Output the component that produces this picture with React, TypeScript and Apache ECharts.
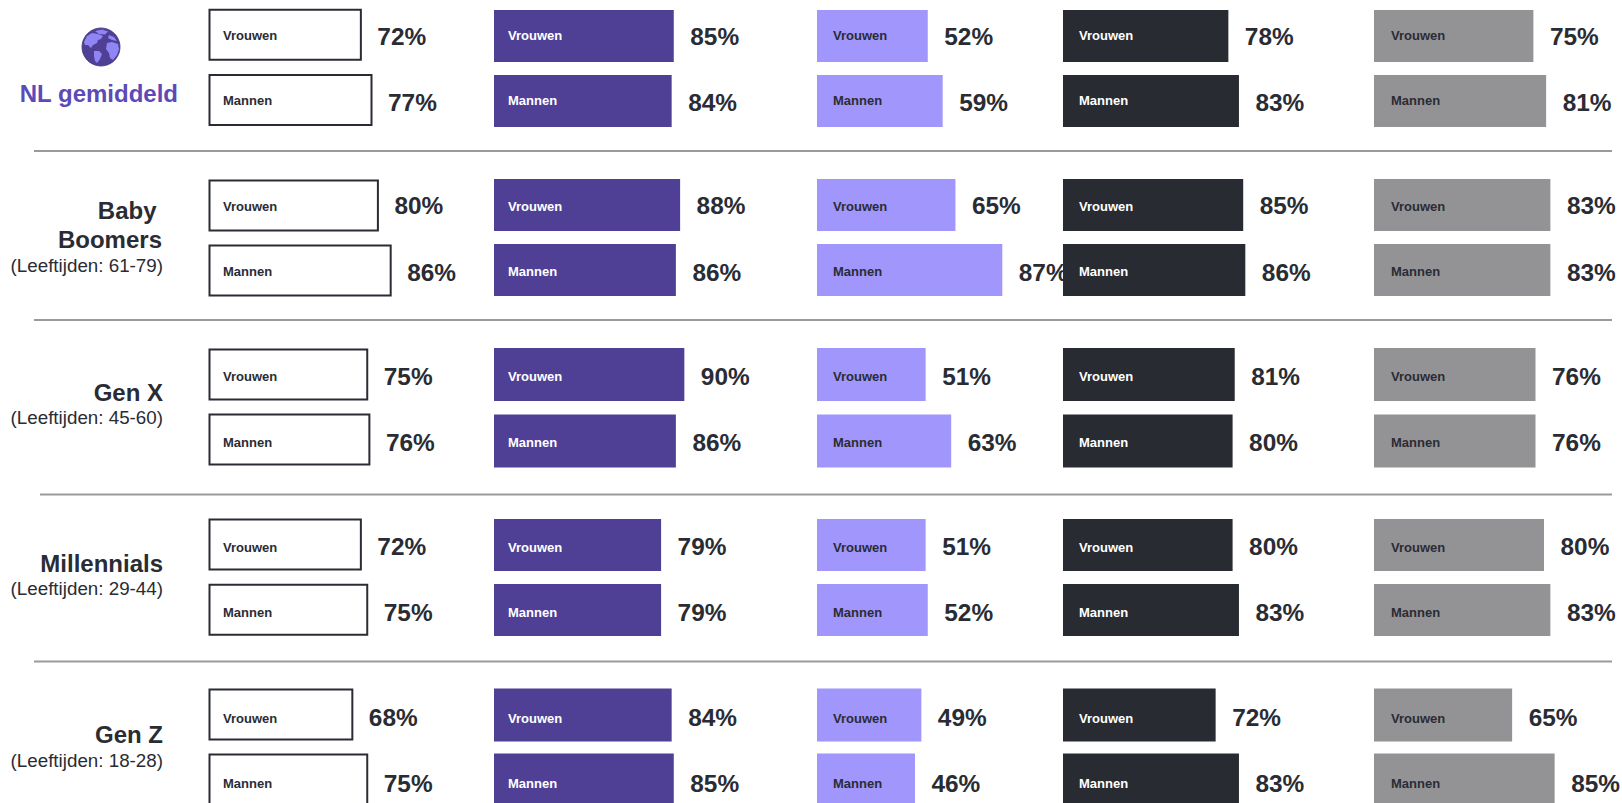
import React, { useEffect, useRef } from "react";
import * as echarts from "echarts";

const categories = ["Vrouwen", "Mannen"];
const groupNames = ["NL gemiddeld", "Baby Boomers", "Gen X", "Millennials", "Gen Z"];
const ageLabels = ["", "(Leeftijden: 61-79)", "(Leeftijden: 45-60)", "(Leeftijden: 29-44)", "(Leeftijden: 18-28)"];

// Values per column, per group: [Vrouwen, Mannen]
const columnOne = [[72, 77], [80, 86], [75, 76], [72, 75], [68, 75]];
const columnTwo = [[85, 84], [88, 86], [90, 86], [79, 79], [84, 85]];
const columnThree = [[52, 59], [65, 87], [51, 63], [51, 52], [49, 46]];
const columnFour = [[78, 83], [85, 86], [81, 80], [80, 83], [72, 83]];
const columnFive = [[75, 81], [83, 83], [76, 76], [80, 83], [65, 85]];
const columns = [columnOne, columnTwo, columnThree, columnFour, columnFive];

// Layout
const INK = "#2a2c34";
const FONT = "'Liberation Sans', Arial, sans-serif";
const columnLeft = [208.5, 494, 817, 1063, 1374];
const columnScale = [2.13, 2.115, 2.13, 2.12, 2.125];
const columnFill = ["#ffffff", "#4f4096", "#a096fb", "#292b33", "#939396"];
const innerInk = [INK, "#ffffff", INK, "#ffffff", INK];
const innerDistance = [14.5, 14, 16, 16, 17];
const percentDistance = [15.5, 16.5, 16.5, 16.5, 16.5];
const rowCenters = [[36, 101], [205, 270], [374.5, 441], [545, 610], [715, 780]];
const boxRowCenters = [[34.8, 100], [205.5, 270.6], [374.5, 439.6], [544.6, 609.8], [714.5, 779.5]];
const barHeights = [52, 52, 53, 52, 53];
const boxHeight = 52;
const innerDy = [[-1, -1], [1, 1], [2, 1], [2, 2], [3, 3]];
const percentDy = [[0, 1], [0, 2], [2, 1], [1, 2], [2, 3]];
const boxLabelDy = [[2, 1], [0, 0], [0, 2], [1, 1], [1, 1]];

const GLOBE_LIGHT =
  "M2 14 L5 8 L10 5 L16 6 L21 8 L19 11 L16 12 L15 15 L11 17 L9 20 L6 17 L3 17 Z " +
  "M12 23 L17 23 L20 26 L18 31 L15 35 L13 33 L12 28 Z " +
  "M13 3 L20 1.5 L26 3.5 L23 6.5 L17 6 Z " +
  "M25 15 L30 14 L36 16 L37 21 L35 27 L31 32 L28 30 L27 25 L24 21 Z " +
  "M27 7 L32 9 L35 13 L30 12 L26 10 Z";
(echarts.graphic as any).registerShape("globeLight", (echarts.graphic as any).extendPath(GLOBE_LIGHT, {}));

function buildOption() {
  const grid: any[] = [];
  const xAxis: any[] = [];
  const yAxis: any[] = [];
  const series: any[] = [];

  columns.forEach((column, c) => {
    column.forEach((values, g) => {
      const [a, b] = c === 0 ? boxRowCenters[g] : rowCenters[g];
      const band = b - a;
      const index = grid.length;
      const extraDy = (i: number) => (c === 0 ? boxLabelDy[g][i] : 0);
      grid.push({ left: columnLeft[c], top: a - band / 2, width: columnScale[c] * 100, height: band * 2 });
      xAxis.push({ gridIndex: index, type: "value", min: 0, max: 100, show: false });
      yAxis.push({ gridIndex: index, type: "category", data: categories, inverse: true, show: false });
      const common = {
        type: "bar",
        xAxisIndex: index,
        yAxisIndex: index,
        barWidth: c === 0 ? boxHeight : barHeights[g],
        barGap: "-100%",
        z: 2 + c,
        silent: true,
      };
      series.push({
        ...common,
        name: `${groupNames[g]} ${c + 1}`,
        data: values,
        itemStyle: c === 0 ? { color: columnFill[c], borderColor: INK, borderWidth: 2 } : { color: columnFill[c] },
        label: {
          show: true,
          position: "insideLeft",
          distance: innerDistance[c],
          formatter: (p: any) => p.name,
          color: innerInk[c],
          fontFamily: FONT,
          fontSize: 13,
          fontWeight: "bold",
        },
        labelLayout: (p: any) => ({ dy: innerDy[g][p.dataIndex] + extraDy(p.dataIndex) }),
      });
      series.push({
        ...common,
        name: `${groupNames[g]} ${c + 1} pct`,
        data: values,
        itemStyle: { color: "transparent" },
        label: {
          show: true,
          position: "right",
          distance: percentDistance[c],
          formatter: (p: any) => `${p.value}%`,
          color: INK,
          fontFamily: FONT,
          fontSize: 24.4,
          fontWeight: "bold",
        },
        labelLayout: (p: any) => ({ dy: percentDy[g][p.dataIndex] + extraDy(p.dataIndex) }),
      });
    });
  });

  const text = (t: string, right: number, y: number, size: number, weight: string, fill = INK) => ({
    type: "text",
    x: right,
    y,
    z: 20,
    style: { text: t, fontFamily: FONT, fontSize: size, fontWeight: weight, fill, align: "right", verticalAlign: "middle" },
  });
  const divider = (x1: number, x2: number, y: number) => ({
    type: "line",
    z: 1,
    shape: { x1, y1: y, x2, y2: y },
    style: { stroke: "#9a9a9c", lineWidth: 2 },
  });

  const [nl, baby, genX, mill, genZ] = groupNames;
  const [babyA, babyB] = baby.split(" ");
  const graphic = [
    divider(34, 1612, 151),
    divider(34, 1612, 320),
    divider(40, 1612, 494.5),
    divider(34, 1612, 661.5),
    { type: "circle", z: 20, shape: { cx: 101, cy: 47, r: 19 }, style: { fill: "#4f4096", stroke: "#3d3478", lineWidth: 0.8 } },
    { type: "globeLight", z: 21, x: 82, y: 28, style: { fill: "#8f86f4" } },
    text(nl, 178, 93, 24, "bold", "#5b4ab8"),
    text(babyA, 156.5, 210, 24, "bold"),
    text(babyB, 162, 239, 24, "bold"),
    text(ageLabels[1], 163, 265, 18.8, "normal"),
    text(genX, 163, 392, 24, "bold"),
    text(ageLabels[2], 163, 417, 18.8, "normal"),
    text(mill, 163, 563, 24, "bold"),
    text(ageLabels[3], 163, 588, 18.8, "normal"),
    text(genZ, 163, 734, 24, "bold"),
    text(ageLabels[4], 163, 760, 18.8, "normal"),
  ];

  return { animation: false, backgroundColor: "#ffffff", grid, xAxis, yAxis, series, graphic };
}

export default function App() {
  const ref = useRef<HTMLDivElement>(null);
  useEffect(() => {
    document.body.style.margin = "0";
    document.body.style.overflow = "hidden";
    const chart = echarts.init(ref.current!, undefined, { renderer: "svg" });
    chart.setOption(buildOption() as any);
    return () => chart.dispose();
  }, []);
  return <div ref={ref} style={{ width: 1622, height: 840 }} />;
}
